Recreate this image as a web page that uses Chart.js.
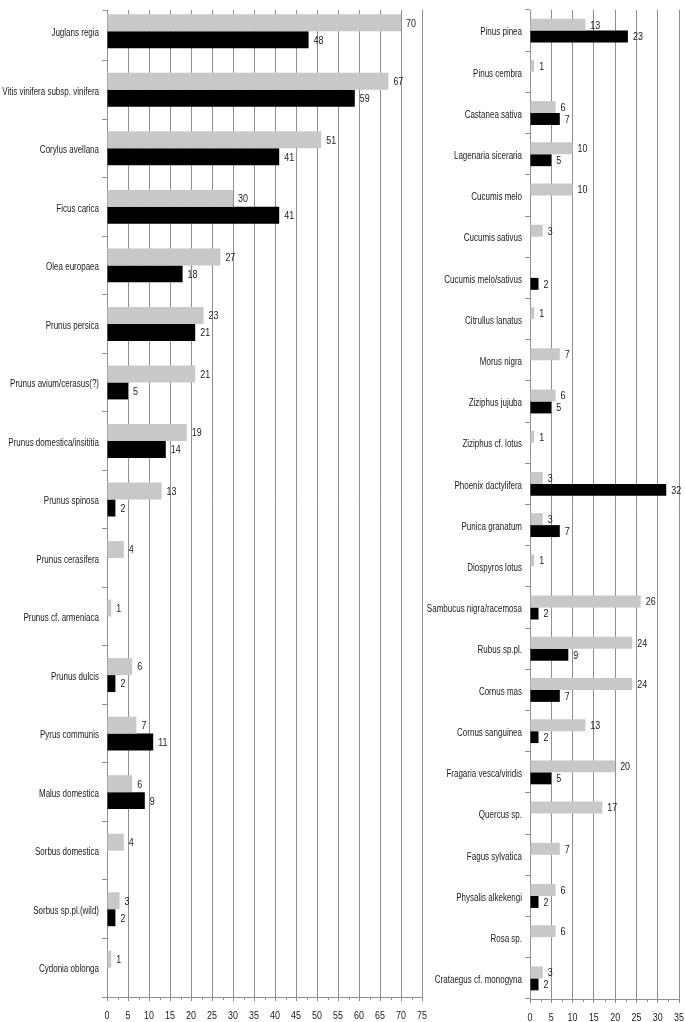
<!DOCTYPE html>
<html lang="en">
<head>
<meta charset="UTF-8">
<title>Chart</title>
<script src="https://cdn.jsdelivr.net/npm/chart.js@4.4.0/dist/chart.umd.min.js"></script>
<style>
  body { margin: 0; background: #fff; }
  .wrap { position: relative; width: 685px; height: 1022px; }
  .box { position: absolute; top: 0; height: 1022px; }
</style>
</head>
<body>
<div class="wrap">
  <div class="box" style="left:0;width:440px"><canvas id="chartLeft" width="440" height="1022"></canvas></div>
  <div class="box" style="left:400px;width:285px"><canvas id="chartRight" width="285" height="1022"></canvas></div>
</div>
<script>
// left panel
const leftLabels = [
  'Juglans regia', 'Vitis vinifera subsp. vinifera', 'Corylus avellana', 'Ficus carica',
  'Olea europaea', 'Prunus persica', 'Prunus avium/cerasus(?)', 'Prunus domestica/insititia',
  'Prunus spinosa', 'Prunus cerasifera', 'Prunus cf. armeniaca', 'Prunus dulcis',
  'Pyrus communis', 'Malus domestica', 'Sorbus domestica', 'Sorbus sp.pl.(wild)', 'Cydonia oblonga'
];
const leftGrey  = [70, 67, 51, 30, 27, 23, 21, 19, 13, 4, 1, 6, 7, 6, 4, 3, 1];
const leftBlack = [48, 59, 41, 41, 18, 21, 5, 14, 2, null, null, 2, 11, 9, null, 2, null];
const leftMax = 75;

// right panel
const rightLabels = [
  'Pinus pinea', 'Pinus cembra', 'Castanea sativa', 'Lagenaria siceraria', 'Cucumis melo',
  'Cucumis sativus', 'Cucumis melo/sativus', 'Citrullus lanatus', 'Morus nigra', 'Ziziphus jujuba',
  'Ziziphus cf. lotus', 'Phoenix dactylifera', 'Punica granatum', 'Diospyros lotus',
  'Sambucus nigra/racemosa', 'Rubus sp.pl.', 'Cornus mas', 'Cornus sanguinea',
  'Fragaria vesca/viridis', 'Quercus sp.', 'Fagus sylvatica', 'Physalis alkekengi', 'Rosa sp.',
  'Crataegus cf. monogyna'
];
const rightGrey  = [13, 1, 6, 10, 10, 3, null, 1, 7, 6, 1, 3, 3, 1, 26, 24, 24, 13, 20, 17, 7, 6, 6, 3];
const rightBlack = [23, null, 7, 5, null, null, 2, null, null, 5, null, 32, 7, null, 2, 9, 7, 2, 5, null, null, 2, null, 2];
const rightMax = 35;

const FONT = "'Liberation Sans', Arial, sans-serif";
const GREY = '#c8c8c8';
const GRID = '#8e8e8e';
const TEXT = '#1a1a1a';

// the original uses a narrow font, so squeeze the text a little
function narrowText(ctx, text, x, y, align, sx) {
  ctx.save();
  ctx.translate(x, y);
  ctx.scale(sx, 1);
  ctx.textAlign = align;
  ctx.textBaseline = 'middle';
  ctx.fillText(text, 0, 0);
  ctx.restore();
}

const textLayer = {
  id: 'textLayer',
  // the grid of the left panel starts a bit below the first band
  beforeDatasetsDraw(chart, args, opts) {
    const area = chart.chartArea;
    if (!opts.gridTop || opts.gridTop <= area.top) return;
    const ctx = chart.ctx;
    ctx.save();
    ctx.fillStyle = '#fff';
    ctx.fillRect(area.left - 7, 0, chart.width - area.left + 7, opts.gridTop);
    ctx.strokeStyle = GRID;
    ctx.lineWidth = 1;
    ctx.beginPath();
    ctx.moveTo(area.left - 4, opts.gridTop + 0.5);
    ctx.lineTo(area.left + 0.5, opts.gridTop + 0.5);
    ctx.stroke();
    ctx.restore();
  },
  afterDraw(chart) {
    const ctx = chart.ctx;
    const area = chart.chartArea;
    const xs = chart.scales.x, ys = chart.scales.y;
    ctx.save();
    ctx.fillStyle = TEXT;

    // category names
    ctx.font = '10px ' + FONT;
    chart.data.labels.forEach((lab, i) => {
      narrowText(ctx, lab, area.left - 8, ys.getPixelForTick(i) + 2, 'right', 0.8);
    });

    // x tick numbers + small minor marks
    ctx.font = '10.5px ' + FONT;
    xs.ticks.forEach(t => {
      narrowText(ctx, String(t.value), xs.getPixelForValue(t.value), area.bottom + 19, 'center', 0.85);
    });
    ctx.strokeStyle = GRID;
    ctx.lineWidth = 1;
    for (let v = 2.5; v < xs.max; v += 5) {
      const px = Math.round(xs.getPixelForValue(v)) + 0.5;
      ctx.beginPath();
      ctx.moveTo(px, area.bottom);
      ctx.lineTo(px, area.bottom + 3);
      ctx.stroke();
    }

    // numbers at the end of each bar
    ctx.font = '10.5px ' + FONT;
    chart.data.datasets.forEach((ds, i) => {
      chart.getDatasetMeta(i).data.forEach((bar, j) => {
        const v = ds.data[j];
        if (v === null || v === undefined) return;
        narrowText(ctx, String(v), bar.x + 5, bar.y + 1, 'left', 0.85);
      });
    });
    ctx.restore();
  }
};

function makeChart(id, labels, grey, black, max, yWidth, xHeight, pad, gridTop) {
  return new Chart(document.getElementById(id), {
    type: 'bar',
    data: {
      labels: labels,
      datasets: [
        { data: grey, backgroundColor: GREY, categoryPercentage: 0.58, barPercentage: 1 },
        { data: black, backgroundColor: '#000', categoryPercentage: 0.58, barPercentage: 1 }
      ]
    },
    options: {
      indexAxis: 'y',
      responsive: false,
      animation: false,
      layout: { padding: pad },
      plugins: { legend: { display: false }, tooltip: { enabled: false }, textLayer: { gridTop: gridTop } },
      scales: {
        y: {
          grid: { drawOnChartArea: false, drawTicks: true, tickLength: 5, color: GRID, offset: true },
          border: { display: true, color: GRID },
          ticks: { display: false },
          afterFit(scale) { scale.width = yWidth; }
        },
        x: {
          min: 0,
          max: max,
          grid: { color: GRID, lineWidth: 1, tickLength: 4 },
          border: { display: true, color: GRID },
          ticks: { display: false, stepSize: 5 },
          afterFit(scale) { scale.height = xHeight; }
        }
      }
    },
    plugins: [textLayer]
  });
}

makeChart('chartLeft', leftLabels, leftGrey, leftBlack, leftMax, 107, 25, { top: 2, right: 18, left: 0, bottom: 0 }, 10);
makeChart('chartRight', rightLabels, rightGrey, rightBlack, rightMax, 130, 23, { top: 10, right: 6, left: 0, bottom: 0 }, 0);
</script>
</body>
</html>
